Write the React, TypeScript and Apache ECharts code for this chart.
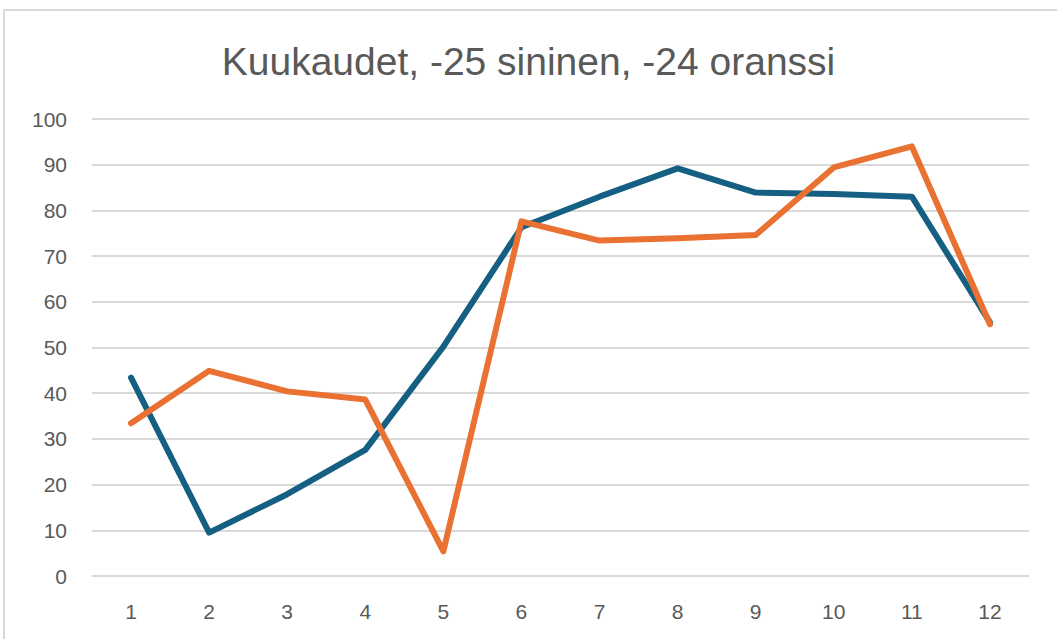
import React, { useEffect, useRef } from "react";
import * as echarts from "echarts";

const months = ["1", "2", "3", "4", "5", "6", "7", "8", "9", "10", "11", "12"];
const blue25 = [43.4, 9.5, 17.9, 27.6, 50.2, 76.3, 83.0, 89.2, 83.9, 83.6, 83.0, 55.5];
const orange24 = [33.4, 44.9, 40.4, 38.6, 5.4, 77.6, 73.4, 73.9, 74.6, 89.4, 94.0, 55.1];
const titleText = "Kuukaudet, -25 sininen, -24 oranssi";

export default function App() {
  const ref = useRef<HTMLDivElement>(null);
  useEffect(() => {
    if (!ref.current) return;
    const chart = echarts.init(ref.current, undefined, { renderer: "svg" });
    chart.setOption({
      animation: false,
      backgroundColor: "#ffffff",
      title: {
        text: titleText,
        left: "center",
        top: 37,
        textStyle: {
          fontFamily: "Liberation Sans, Arial, sans-serif",
          fontWeight: "normal",
          fontSize: 39,
          color: "#595959",
        },
      },
      graphic: [
        {
          type: "rect",
          shape: { x: 4, y: 10, width: 1100, height: 700 },
          style: { fill: "none", stroke: "#d9d9d9", lineWidth: 2 },
          silent: true,
        },
      ],
      grid: { left: 92, right: 28, top: 119, bottom: 63, containLabel: false },
      xAxis: {
        type: "category",
        data: months,
        boundaryGap: true,
        axisLine: { show: false },
        axisTick: { show: false },
        axisLabel: {
          color: "#595959",
          fontSize: 21,
          fontFamily: "Liberation Sans, Arial, sans-serif",
          margin: 25,
        },
      },
      yAxis: {
        type: "value",
        min: 0,
        max: 100,
        interval: 10,
        axisLine: { show: false },
        axisTick: { show: false },
        splitLine: { lineStyle: { color: "#d9d9d9", width: 2 } },
        axisLabel: {
          color: "#595959",
          fontSize: 21,
          fontFamily: "Liberation Sans, Arial, sans-serif",
          margin: 25,
        },
      },
      series: [
        {
          name: "-25",
          type: "line",
          data: blue25,
          showSymbol: false,
          symbol: "none",
          lineStyle: { color: "#156082", width: 6, cap: "round", join: "round" },
          itemStyle: { color: "#156082" },
        },
        {
          name: "-24",
          type: "line",
          data: orange24,
          showSymbol: false,
          symbol: "none",
          lineStyle: { color: "#e97132", width: 6, cap: "round", join: "round" },
          itemStyle: { color: "#e97132" },
        },
      ],
    });
    return () => chart.dispose();
  }, []);
  return (
    <div
      ref={ref}
      style={{ position: "fixed", left: 0, top: 0, width: 1057, height: 639 }}
    />
  );
}
